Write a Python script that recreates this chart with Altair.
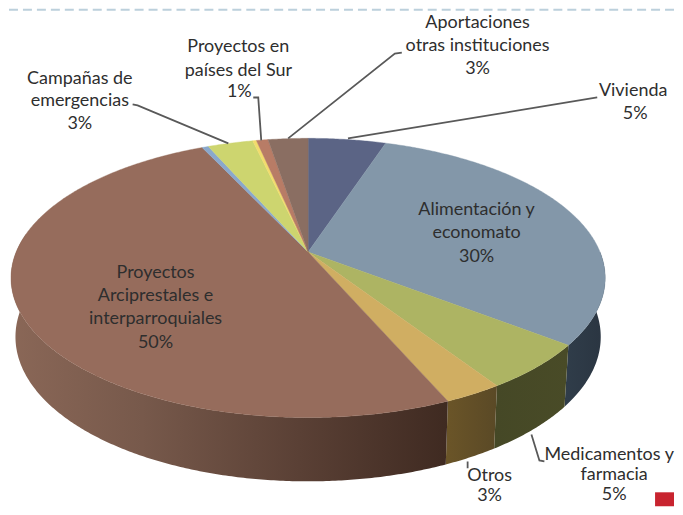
import math
import altair as alt
import pandas as pd

# ---- chart values (share of the pie, clockwise from 12 o'clock) ----
categories = ["Vivienda", "Alimentación y economato", "Medicamentos y farmacia", "Otros",
              "Proyectos Arciprestales e interparroquiales", "Sin rótulo", "Campañas de emergencias",
              "Sin rótulo 2", "Proyectos en países del Sur", "Aportaciones otras instituciones"]
shares = [5.06, 30.44, 5.3, 2.7, 49.53, 0.42, 2.95, 0.24, 0.76, 2.6]
top_colors = ["#5b6485", "#8397a9", "#adb463", "#d0ae62", "#966c5c", "#8aa8cc", "#cdd56f", "#f2dc6c", "#b87c66", "#8a6e62"]

label_text = ["Campañas de", "emergencias", "3%",
              "Proyectos en", "países del Sur", "1%",
              "Aportaciones", "otras instituciones", "3%",
              "Vivienda", "5%",
              "Alimentación y", "economato", "30%",
              "Proyectos", "Arciprestales e", "interparroquiales", "50%",
              "Medicamentos y", "farmacia", "5%",
              "Otros", "3%"]
label_px = [79, 79, 79, 238, 238, 239, 478, 478, 478, 634, 636, 477, 477, 477,
            155, 155, 155, 155, 610, 615, 615, 490, 490]
label_py = [78, 101, 124, 46, 70, 92, 22, 45, 68, 91, 114, 210, 233, 257,
            273, 296, 319, 343, 456, 476, 496, 477, 497]

OFF = 8
W, H = 667, 499

# ---- pie geometry: a circle seen in perspective ----
CX, CY, K, M, P = 308.0, 252.0, 292.8, 135.2, 0.1857


def top_pt(deg):
    a = math.radians(deg)
    u, v = math.sin(a), math.cos(a)
    d = 1 + P * v
    return CX + K * u / d, CY - M * v / d


def low_pt(deg):
    a = math.radians(deg)
    x, y = top_pt(deg)
    depth = 58 + 6 * max(0.0, -math.cos(a))
    return CX + (x - CX) * 0.985, y + depth


def arc(fn, a0, a1):
    n = max(2, int(abs(a1 - a0) / 0.5) + 1)
    return [list(fn(a0 + (a1 - a0) * i / n)) for i in range(n + 1)]


def feature(ring, kind="Polygon"):
    return {"type": "Feature", "properties": {},
            "geometry": {"type": kind, "coordinates": [ring] if kind == "Polygon" else ring}}


proj = dict(type="identity", scale=1, translate=[-OFF, -OFF])

bounds = [0.0]
for s in shares:
    bounds.append(bounds[-1] + s * 3.6)

side_fills = {
    1: alt.Gradient(gradient="linear", x1=0, x2=1, y1=0, y2=0,
                    stops=[alt.GradientStop(offset=0, color="#303d4a"), alt.GradientStop(offset=1, color="#2a3541")]),
    2: alt.Gradient(gradient="linear", x1=0, x2=1, y1=0, y2=0,
                    stops=[alt.GradientStop(offset=0, color="#454826"), alt.GradientStop(offset=1, color="#494b27")]),
    3: alt.Gradient(gradient="linear", x1=0, x2=1, y1=0, y2=0,
                    stops=[alt.GradientStop(offset=0, color="#6b5528"), alt.GradientStop(offset=1, color="#5a4926")]),
    4: alt.Gradient(gradient="linear", x1=0, x2=1, y1=0, y2=0,
                    stops=[alt.GradientStop(offset=0, color="#8a6757"), alt.GradientStop(offset=0.3, color="#77594b"),
                           alt.GradientStop(offset=0.66, color="#5a4035"), alt.GradientStop(offset=1, color="#3f2a21")]),
}

layers = []

# dashed header rule and the corner square of the slide
layers.append(alt.Chart(pd.DataFrame({"a": [0]})).mark_rule(
    color="#bcd0dc", strokeWidth=2, strokeDash=[9, 5]).encode(
    x=alt.value(0), x2=alt.value(W), y=alt.value(1)))

for i, fill in side_fills.items():
    a0 = bounds[i]
    a1 = min(bounds[i + 1], 278.0)
    a0 = max(a0, 90.0)
    ring = arc(top_pt, a0, a1) + arc(low_pt, a1, a0)
    ring.append(ring[0])
    layers.append(alt.Chart(alt.Data(values=[feature(ring)])).mark_geoshape(
        fill=fill, strokeWidth=0).project(**proj))

for i, col in enumerate(top_colors):
    ring = [[CX, CY]] + arc(top_pt, bounds[i], bounds[i + 1]) + [[CX, CY]]
    layers.append(alt.Chart(alt.Data(values=[feature(ring)])).mark_geoshape(
        fill=col, stroke=col, strokeWidth=0.4).project(**proj))

# leader lines
leaders = [
    [[132, 104], [137, 105], [228, 143]],
    [[253, 97], [258, 97], [261, 140]],
    [[402, 52], [395, 53], [288, 138]],
    [[598, 97], [348, 138]],
    [[532, 435], [540, 461], [545, 462]],
    [[468, 462], [468, 469]],
]
for pts in leaders:
    layers.append(alt.Chart(alt.Data(values=[feature(pts, "LineString")])).mark_geoshape(
        filled=False, stroke="#595959", strokeWidth=1.8).project(**proj))

labels = pd.DataFrame({"t": label_text, "px": [p - OFF for p in label_px], "py": [p - OFF for p in label_py]})
layers.append(alt.Chart(labels).mark_text(
    font="Lato", fontSize=18, color="#2e2e2e", align="center", baseline="middle").encode(
    x=alt.X("px:Q", scale=None), y=alt.Y("py:Q", scale=None), text="t:N"))

layers.append(alt.Chart(pd.DataFrame({"a": [0]})).mark_rect(color="#c8242f").encode(
    x=alt.value(656 - OFF), x2=alt.value(W), y=alt.value(493 - OFF), y2=alt.value(H)))

chart = alt.layer(*layers).properties(width=W, height=H, padding=0, background="white").configure_view(stroke=None)
chart.save("out.html", embed_options={"renderer": "svg", "actions": False})
